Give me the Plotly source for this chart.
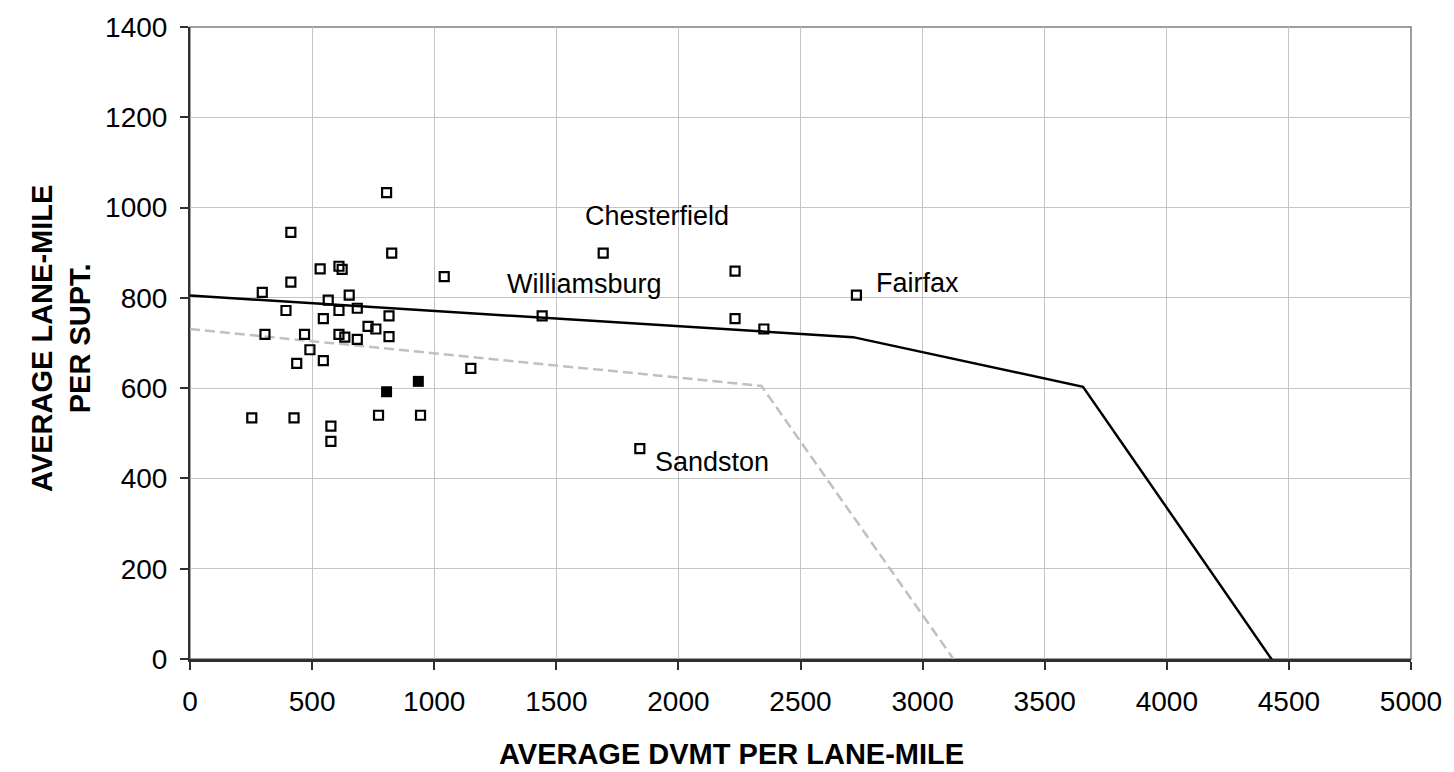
import plotly.graph_objects as go

# ---- data ----
open_x = [805, 413, 826, 533, 610, 623, 1041, 413, 296, 652, 566, 393, 610, 685, 546, 815,
          729, 761, 307, 469, 610, 634, 685, 815, 491, 437, 546, 1150, 253, 426, 772, 944,
          577, 577, 1692, 1442, 2232, 2232, 2350, 2729, 1842]
open_y = [1033, 945, 899, 864, 870, 863, 847, 835, 812, 806, 795, 772, 772, 777, 754, 760,
          737, 731, 719, 719, 719, 713, 708, 714, 685, 655, 661, 644, 534, 534, 540, 540,
          516, 482, 899, 760, 859, 754, 731, 806, 466]
filled_x = [935, 805]
filled_y = [615, 592]

solid_x = [0, 2715, 3657, 4445]
solid_y = [805, 713, 603, -13]
dashed_x = [0, 2340, 3138]
dashed_y = [731, 605, -9]

labels = ["Chesterfield", "Williamsburg", "Fairfax", "Sandston"]
label_x = [1692, 1442, 2729, 1842]
label_y = [899, 760, 806, 466]

x_ticks = [0, 500, 1000, 1500, 2000, 2500, 3000, 3500, 4000, 4500, 5000]
y_ticks = [0, 200, 400, 600, 800, 1000, 1200, 1400]

x_title = "AVERAGE DVMT PER LANE-MILE"
y_title = "AVERAGE LANE-MILE<br>PER SUPT."

FONT = "Liberation Sans, Arial, sans-serif"

fig = go.Figure()
fig.add_trace(go.Scatter(x=dashed_x, y=dashed_y, mode="lines",
                         line=dict(color="#c0c0c0", width=2.5, dash="10px,5px"),
                         showlegend=False, hoverinfo="skip"))
fig.add_trace(go.Scatter(x=solid_x, y=solid_y, mode="lines",
                         line=dict(color="black", width=2.5),
                         showlegend=False, hoverinfo="skip"))
fig.add_trace(go.Scatter(x=open_x, y=open_y, mode="markers",
                         marker=dict(symbol="square-open", size=9, color="black",
                                     line=dict(width=2.2, color="black")),
                         showlegend=False, cliponaxis=False))
fig.add_trace(go.Scatter(x=filled_x, y=filled_y, mode="markers",
                         marker=dict(symbol="square", size=11, color="black"),
                         showlegend=False, cliponaxis=False))

# label offsets (pixels) relative to labeled points
offsets = {
    "Chesterfield": dict(xshift=54, yshift=37, xanchor="center"),
    "Williamsburg": dict(xshift=42, yshift=32, xanchor="center"),
    "Fairfax": dict(xshift=18, yshift=12, xanchor="left"),
    "Sandston": dict(xshift=13, yshift=-13, xanchor="left"),
}
for name, lx, ly in zip(labels, label_x, label_y):
    o = offsets[name]
    fig.add_annotation(x=lx, y=ly, xref="x", yref="y", text=name, showarrow=False,
                       xanchor=o["xanchor"], yanchor="middle",
                       xshift=o["xshift"], yshift=o["yshift"],
                       font=dict(family=FONT, size=27, color="black"))

fig.add_annotation(x=0.4435, y=-0.15, xref="paper", yref="paper", text="<b>" + x_title + "</b>",
                   showarrow=False, xanchor="center", yanchor="middle",
                   font=dict(family=FONT, size=29, color="black"))
fig.add_annotation(x=-0.1057, y=0.508, xref="paper", yref="paper", text="<b>" + y_title + "</b>",
                   showarrow=False, xanchor="center", yanchor="middle", textangle=-90,
                   font=dict(family=FONT, size=29, color="black"))

# gray frame top/right
fig.add_shape(type="rect", xref="paper", yref="paper", x0=0, y0=0, x1=1, y1=1,
              line=dict(color="#808080", width=1.5), layer="below")

fig.update_layout(
    width=1454, height=772,
    margin=dict(l=190, r=42, t=21, b=113),
    paper_bgcolor="white", plot_bgcolor="white",
    font=dict(family=FONT, size=28, color="black"),
    showlegend=False,
)
fig.update_xaxes(range=[0, 5000], tickvals=x_ticks, ticktext=[str(v) for v in x_ticks],
                 showgrid=True, gridcolor="#c4c4c4", gridwidth=1,
                 showline=True, linecolor="#303030", linewidth=2.5,
                 ticks="outside", ticklen=8, tickcolor="#303030", tickwidth=1.5,
                 ticklabelstandoff=8,
                 zeroline=False, tickfont=dict(family=FONT, size=28, color="black"))
fig.update_yaxes(range=[0, 1400], tickvals=y_ticks, ticktext=[str(v) for v in y_ticks],
                 showgrid=True, gridcolor="#c4c4c4", gridwidth=1,
                 showline=True, linecolor="#303030", linewidth=2,
                 ticks="outside", ticklen=8, tickcolor="#303030", tickwidth=1.5,
                 ticklabelstandoff=7,
                 zeroline=False, tickfont=dict(family=FONT, size=28, color="black"))

fig.write_html("out.html", config={"displayModeBar": False},
               post_script="document.body.style.margin='0';")
